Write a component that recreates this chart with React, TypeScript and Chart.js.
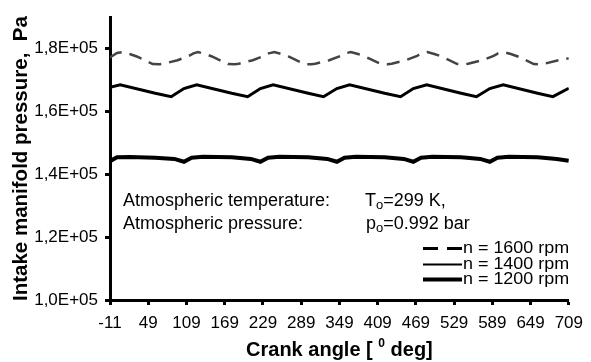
import React, { useEffect, useRef } from 'react';
import { Chart, registerables } from 'chart.js';

Chart.register(...registerables);

const angles1600 = [-11, 0, 9, 20, 31, 56, 67, 73, 95, 113, 120, 127, 138, 149, 174, 185, 191, 213, 231, 238, 247, 258, 269, 294, 305, 311, 333, 351, 358, 367, 378, 389, 414, 425, 431, 453, 471, 478, 487, 498, 509, 534, 545, 551, 573, 591, 598, 607, 618, 629, 654, 665, 671, 693, 709];
const pressure1600 = [177200, 178600, 178900, 178300, 177500, 175100, 175000, 175200, 176300, 177700, 178500, 178900, 178300, 177500, 175100, 175000, 175200, 176300, 177700, 178500, 178900, 178300, 177500, 175100, 175000, 175200, 176300, 177700, 178500, 178900, 178300, 177500, 175100, 175000, 175200, 176300, 177700, 178500, 178900, 178300, 177500, 175100, 175000, 175200, 176300, 177700, 178500, 178900, 178300, 177500, 175100, 175000, 175200, 176300, 176900];

const angles1400 = [-11, 5, 60, 85, 105, 125, 180, 205, 225, 245, 300, 324, 345, 365, 420, 445, 465, 486, 540, 564, 585, 606, 660, 684, 709];
const pressure1400 = [167700, 168500, 165800, 164700, 167300, 168500, 165800, 164700, 167300, 168500, 165800, 164700, 167300, 168500, 165800, 164700, 167300, 168500, 165800, 164700, 167300, 168500, 165800, 164700, 167400];

const angles1200 = [-11, 0, 20, 60, 90, 105, 117, 135, 180, 210, 225, 237, 255, 300, 330, 345, 357, 375, 420, 450, 465, 477, 495, 540, 570, 585, 597, 615, 660, 690, 709];
const pressure1200 = [144200, 145400, 145500, 145300, 144900, 144000, 145300, 145600, 145400, 144900, 144000, 145300, 145600, 145400, 144900, 144000, 145300, 145600, 145400, 144900, 144000, 145300, 145600, 145400, 144900, 144000, 145300, 145600, 145400, 144900, 144300];

const xTickValues = [-11, 49, 109, 169, 229, 289, 349, 409, 469, 529, 589, 649, 709];
const yTickValues = [100000, 120000, 140000, 160000, 180000];

const seriesLabels = ['n = 1600 rpm', 'n = 1400 rpm', 'n = 1200 rpm'];
const noteLabels = ['Atmospheric temperature:', 'Atmospheric pressure:'];
const noteValues = [['T', 'o', '=299 K,'], ['p', 'o', '=0.992 bar']];
const xTitleParts = ['Crank angle [ ', '0', ' deg]'];
const yTitleText = 'Intake manifold pressure,  Pa';

const FONT = '"Liberation Sans", Arial, sans-serif';

function toPoints(xs: number[], ys: number[]) {
  return xs.map((x, i) => ({ x, y: ys[i] }));
}

const overlayPlugin = {
  id: 'overlay',
  afterDraw(chart: any) {
    const { ctx, chartArea } = chart;
    ctx.save();
    ctx.fillStyle = '#000';
    ctx.textAlign = 'left';
    ctx.textBaseline = 'alphabetic';

    // notes
    const noteX = chartArea.left + 13;
    const noteY = [206, 229];
    const valueX = [365, 366];
    noteLabels.forEach((t, i) => {
      ctx.font = `18px ${FONT}`;
      ctx.fillText(t, noteX, noteY[i]);
      const [a, sub, rest] = noteValues[i];
      let x = valueX[i];
      ctx.fillText(a, x, noteY[i]);
      x += ctx.measureText(a).width;
      ctx.font = `13px ${FONT}`;
      ctx.fillText(sub, x, noteY[i] + 3);
      x += ctx.measureText(sub).width;
      ctx.font = `18px ${FONT}`;
      ctx.fillText(rest, x, noteY[i]);
    });

    // legend
    const rowY = [248.5, 264.5, 279.5];
    const styles = [
      { dash: [15, 9], width: 3 },
      { dash: [], width: 2 },
      { dash: [], width: 4 },
    ];
    seriesLabels.forEach((label, i) => {
      ctx.save();
      ctx.strokeStyle = '#000';
      ctx.lineWidth = styles[i].width;
      ctx.setLineDash(styles[i].dash);
      ctx.beginPath();
      ctx.moveTo(423, rowY[i]);
      ctx.lineTo(462, rowY[i]);
      ctx.stroke();
      ctx.restore();
      ctx.save();
      ctx.translate(463, rowY[i] + 0.5);
      ctx.scale(1.12, 1);
      ctx.font = `16px ${FONT}`;
      ctx.textBaseline = 'middle';
      ctx.fillText(label, 0, 0);
      ctx.restore();
    });

    // x title
    ctx.font = `bold 20px ${FONT}`;
    const w1 = ctx.measureText(xTitleParts[0]).width;
    const w3 = ctx.measureText(xTitleParts[2]).width;
    ctx.font = `bold 12px ${FONT}`;
    const w2 = ctx.measureText(xTitleParts[1]).width;
    const total = w1 + w2 + w3;
    let tx = (chartArea.left + chartArea.right) / 2 - total / 2;
    const ty = 356;
    ctx.font = `bold 20px ${FONT}`;
    ctx.fillText(xTitleParts[0], tx, ty);
    tx += w1;
    ctx.font = `bold 12px ${FONT}`;
    ctx.fillText(xTitleParts[1], tx, ty - 9);
    tx += w2;
    ctx.font = `bold 20px ${FONT}`;
    ctx.fillText(xTitleParts[2], tx, ty);

    ctx.restore();
  },
};

export default function App() {
  const canvasRef = useRef<HTMLCanvasElement | null>(null);

  useEffect(() => {
    const canvas = canvasRef.current;
    if (!canvas) return;
    const chart = new Chart(canvas, {
      type: 'line',
      data: {
        datasets: [
          {
            label: seriesLabels[0],
            data: toPoints(angles1600, pressure1600),
            borderColor: '#444444',
            borderWidth: 2.5,
            borderDash: [13, 8],
            pointRadius: 0,
            tension: 0,
          },
          {
            label: seriesLabels[1],
            data: toPoints(angles1400, pressure1400),
            borderColor: '#000',
            borderWidth: 3,
            pointRadius: 0,
            tension: 0,
          },
          {
            label: seriesLabels[2],
            data: toPoints(angles1200, pressure1200),
            borderColor: '#000',
            borderWidth: 4,
            pointRadius: 0,
            tension: 0,
          },
        ],
      },
      options: {
        responsive: false,
        animation: false,
        layout: { padding: { left: 0, right: 18, top: 14, bottom: 0 } },
        plugins: {
          legend: { display: false },
          tooltip: { enabled: false },
        },
        scales: {
          x: {
            type: 'linear',
            min: -11,
            max: 709,
            afterBuildTicks: (axis: any) => {
              axis.ticks = xTickValues.map((v) => ({ value: v }));
            },
            afterFit: (axis: any) => {
              axis.height = 62;
            },
            ticks: {
              autoSkip: false,
              maxRotation: 0,
              padding: 8,
              color: '#000',
              font: { family: FONT, size: 17 },
              callback: (v: any) => String(v),
            },
            grid: {
              drawOnChartArea: false,
              drawTicks: true,
              tickLength: 5,
              tickWidth: 3,
              tickColor: '#000',
            },
            border: { display: true, color: '#000', width: 3 },
          },
          y: {
            type: 'linear',
            min: 100000,
            max: 190000,
            afterBuildTicks: (axis: any) => {
              axis.ticks = yTickValues.map((v) => ({ value: v }));
            },
            afterFit: (axis: any) => {
              axis.width = 110;
            },
            ticks: {
              padding: 7,
              color: '#000',
              font: { family: FONT, size: 17 },
              callback: (v: any) => (Number(v) / 100000).toFixed(1).replace('.', ',') + 'E+05',
            },
            grid: {
              drawOnChartArea: false,
              drawTicks: true,
              tickLength: 5,
              tickWidth: 3,
              tickColor: '#000',
            },
            border: { display: true, color: '#000', width: 3 },
            title: {
              display: true,
              text: yTitleText,
              color: '#000',
              font: { family: FONT, size: 20.5, weight: 'bold' },
              padding: { top: 9, bottom: 0 },
            },
          },
        },
      },
      plugins: [overlayPlugin],
    } as any);
    return () => chart.destroy();
  }, []);

  return (
    <div style={{ position: 'absolute', left: 0, top: 0, width: 591, height: 362, background: '#fff' }}>
      <canvas ref={canvasRef} width={591} height={362} style={{ display: 'block' }} />
    </div>
  );
}
